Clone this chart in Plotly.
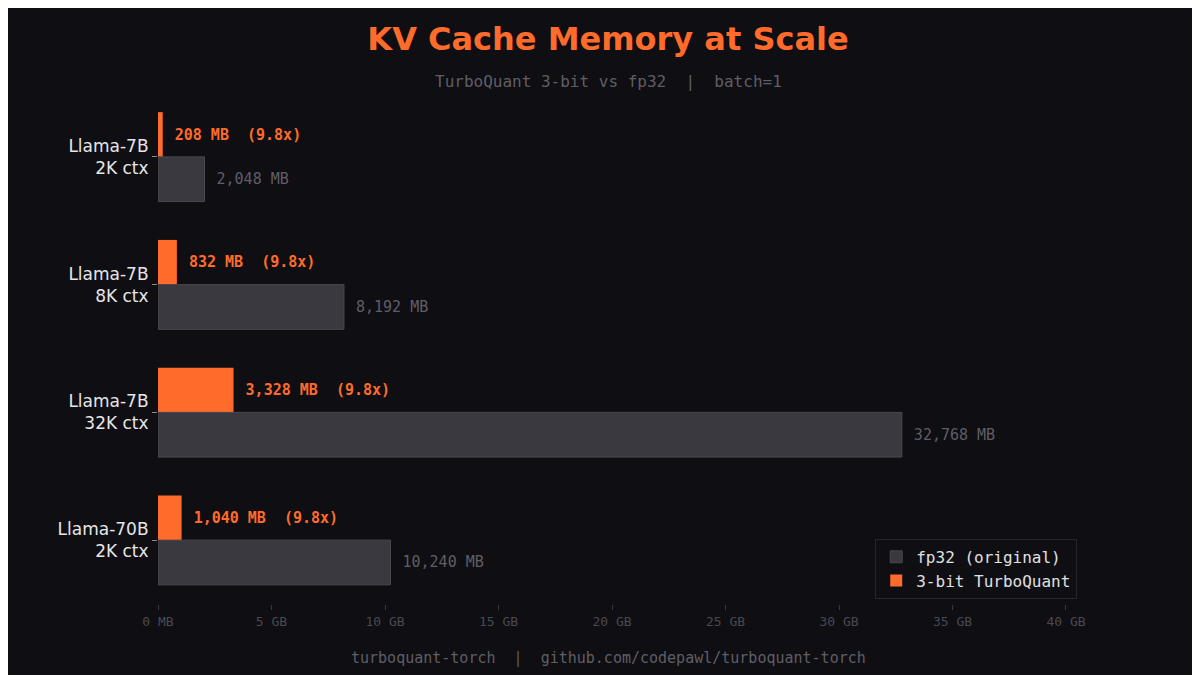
import plotly.graph_objects as go

categories = ["Llama-7B<br>2K ctx", "Llama-7B<br>8K ctx", "Llama-7B<br>32K ctx", "Llama-70B<br>2K ctx"]
fp32_mb = [2048, 8192, 32768, 10240]
tq_mb = [208, 832, 3328, 1040]
ratios = [9.8, 9.8, 9.8, 9.8]
tick_vals = [0, 5000, 10000, 15000, 20000, 25000, 30000, 35000, 40000]
tick_text = ["0 MB", "5 GB", "10 GB", "15 GB", "20 GB", "25 GB", "30 GB", "35 GB", "40 GB"]

BG = "#0f0e13"
ORANGE = "#ff6b2b"
GRAY = "#3a393f"
MONO = "DejaVu Sans Mono"

fig = go.Figure()
# first trace is drawn on top with the reversed axis
fig.add_trace(go.Bar(
    y=categories, x=tq_mb, orientation="h", name="3-bit TurboQuant",
    marker=dict(color=ORANGE, line=dict(width=0)),
    text=[f"<b>\u00a0{v:,} MB\u00a0\u00a0({r}x)</b>" for v, r in zip(tq_mb, ratios)],
    textposition="outside",
    textfont=dict(family=MONO, size=15, color=ORANGE), cliponaxis=False,
))
fig.add_trace(go.Bar(
    y=categories, x=fp32_mb, orientation="h", name="fp32 (original)",
    marker=dict(color=GRAY, line=dict(color="#4a4950", width=1)),
    text=[f"\u00a0{v:,} MB" for v in fp32_mb], textposition="outside",
    textfont=dict(family=MONO, size=15, color="#5f5e66"), cliponaxis=False,
))

fig.update_layout(
    width=1200, height=675,
    paper_bgcolor=BG, plot_bgcolor=BG,
    barmode="group", bargap=0.3, bargroupgap=0,
    margin=dict(l=150, r=128, t=85, b=79),
    title=dict(
        text="<b>KV Cache Memory at Scale</b>",
        x=0.5, xanchor="center", y=0.955, yanchor="middle",
        font=dict(family="DejaVu Sans", size=32, color=ORANGE),
    ),
    legend=dict(
        x=0.997, xanchor="right", y=0.01, yanchor="bottom",
        bgcolor=BG, bordercolor="#26252b", borderwidth=1,
        font=dict(family=MONO, size=16, color="#e0e0e0"),
        traceorder="reversed",
    ),
    showlegend=True,
)
fig.update_xaxes(
    range=[0, 40617], tickvals=tick_vals, ticktext=tick_text,
    showgrid=False, zeroline=False, showline=False,
    ticks="outside", ticklen=5, tickcolor="#3a393f",
    tickfont=dict(family=MONO, size=13, color="#4a4950"),
)
fig.update_yaxes(
    autorange="reversed", showgrid=False, zeroline=False, showline=False,
    ticks="outside", ticklen=5, tickcolor="#8a8a8a",
    tickfont=dict(family="DejaVu Sans", size=17, color="#e6e6e6"),
)
fig.add_annotation(
    text="TurboQuant 3-bit vs fp32\u00a0\u00a0|\u00a0\u00a0batch=1",
    xref="paper", yref="paper", x=(600 - 150) / 922, y=1.0, yshift=12,
    showarrow=False, font=dict(family=MONO, size=16, color="#5f5e66"),
    xanchor="center", yanchor="middle",
)
fig.add_annotation(
    text="turboquant-torch\u00a0\u00a0|\u00a0\u00a0github.com/codepawl/turboquant-torch",
    xref="paper", yref="paper", x=(600 - 150) / 922, y=0, yshift=-54,
    showarrow=False, font=dict(family=MONO, size=15, color="#5f5e66"),
    xanchor="center", yanchor="middle",
)

fig.write_html("out.html")
